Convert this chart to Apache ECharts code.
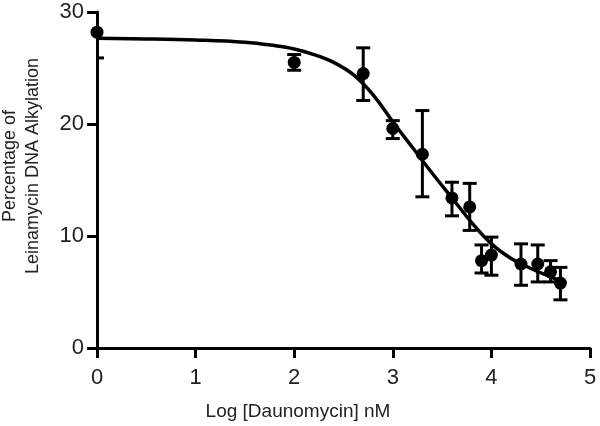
<!DOCTYPE html>
<html>
<head>
<meta charset="utf-8">
<script src="https://cdn.jsdelivr.net/npm/echarts@6/dist/echarts.min.js"></script>
<style>
  html, body { margin: 0; padding: 0; background: #fff; }
  #chart { width: 600px; height: 426px; }
</style>
</head>
<body>
<div id="chart"></div>
<script>
// measured points (log nM vs % alkylation) with error bar ends
const logDose = [0, 2, 2.7, 3, 3.3, 3.6, 3.78, 3.9, 4, 4.3, 4.47, 4.6, 4.7];
const meanPct = [28.2, 25.5, 24.5, 19.6, 17.3, 13.4, 12.6, 7.8, 8.3, 7.5, 7.5, 6.8, 5.8];
const lowPct = [25.9, 24.8, 22.1, 18.7, 13.5, 11.8, 10.5, 6.7, 6.5, 5.6, 5.9, 5.9, 4.3];
const highPct = [30.5, 26.2, 26.8, 20.3, 21.2, 14.8, 14.7, 9.2, 9.9, 9.3, 9.2, 7.8, 7.2];

// fitted curve
const fitX = [0, 0.5, 1, 1.5, 1.8, 2, 2.2, 2.4, 2.6, 2.8, 3, 3.2, 3.4, 3.6, 3.8, 4, 4.2, 4.4, 4.6, 4.7];
const fitY = [27.65, 27.6, 27.5, 27.3, 27.0, 26.7, 26.2, 25.5, 24.4, 22.6, 20.2, 17.9, 15.6, 13.4, 11.2, 9.3, 8.0, 7.1, 6.35, 6.0];

const xTicks = [0, 1, 2, 3, 4, 5];
const yTicks = [0, 10, 20, 30];

const chart = echarts.init(document.getElementById('chart'));

const font = 'Liberation Sans, Arial, sans-serif';

const option = {
  animation: false,
  grid: { left: 97, right: 10, top: 12, bottom: 78 },
  xAxis: {
    type: 'value',
    min: xTicks[0],
    max: xTicks[xTicks.length - 1],
    interval: 1,
    axisLine: { lineStyle: { color: '#000', width: 3 } },
    axisTick: { length: 10, lineStyle: { color: '#000', width: 3 } },
    axisLabel: { color: '#222', fontSize: 22, fontFamily: font, margin: 19 },
    splitLine: { show: false }
  },
  yAxis: {
    type: 'value',
    min: yTicks[0],
    max: yTicks[yTicks.length - 1],
    interval: 10,
    axisLine: { show: true, lineStyle: { color: '#000', width: 3 } },
    axisTick: { show: true, length: 10, lineStyle: { color: '#000', width: 3 } },
    axisLabel: { color: '#222', fontSize: 22, fontFamily: font, margin: 13 },
    splitLine: { show: false }
  },
  graphic: [
    {
      type: 'text',
      x: 298, y: 412,
      style: {
        text: 'Log [Daunomycin] nM',
        fill: '#222',
        font: '19px ' + font,
        align: 'center',
        verticalAlign: 'middle'
      }
    },
    {
      type: 'text',
      x: 22, y: 166,
      rotation: Math.PI / 2,
      style: {
        text: 'Percentage of\nLeinamycin DNA Alkylation',
        fill: '#222',
        font: '18px ' + font,
        lineHeight: 23,
        align: 'center',
        verticalAlign: 'middle'
      }
    }
  ],
  series: [
    {
      type: 'line',
      data: fitX.map((x, i) => [x, fitY[i]]),
      smooth: 0.4,
      showSymbol: false,
      lineStyle: { color: '#000', width: 3.5 },
      z: 3
    },
    {
      type: 'custom',
      clip: true,
      data: logDose.map((x, i) => [x, lowPct[i], highPct[i]]),
      renderItem: (params, api) => {
        const lo = api.coord([api.value(0), api.value(1)]);
        const hi = api.coord([api.value(0), api.value(2)]);
        const hw = 7;
        const style = { stroke: '#000', lineWidth: 3 };
        return {
          type: 'group',
          children: [
            { type: 'line', shape: { x1: lo[0], y1: lo[1], x2: hi[0], y2: hi[1] }, style },
            { type: 'line', shape: { x1: lo[0] - hw, y1: lo[1], x2: lo[0] + hw, y2: lo[1] }, style },
            { type: 'line', shape: { x1: hi[0] - hw, y1: hi[1], x2: hi[0] + hw, y2: hi[1] }, style }
          ]
        };
      },
      z: 4
    },
    {
      type: 'scatter',
      data: logDose.map((x, i) => [x, meanPct[i]]),
      symbol: 'circle',
      symbolSize: 13,
      itemStyle: { color: '#000', opacity: 1 },
      z: 5
    }
  ]
};

chart.setOption(option);
</script>
</body>
</html>
